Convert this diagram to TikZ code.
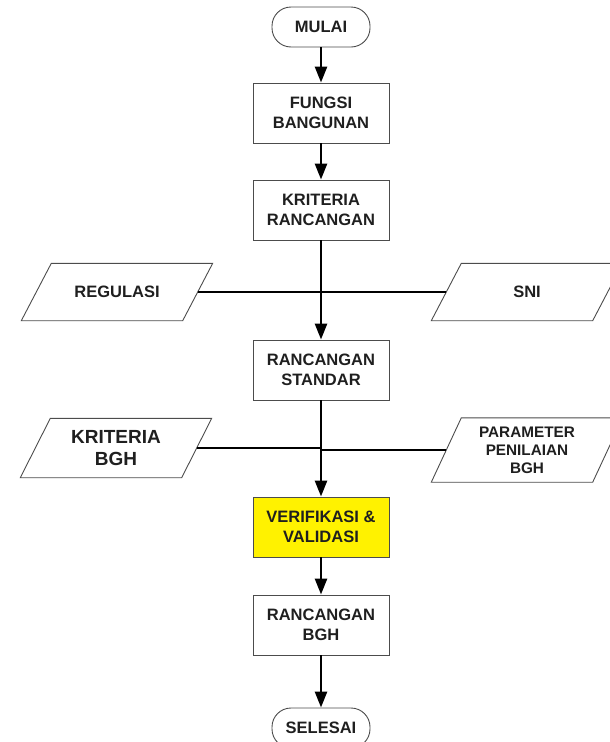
\documentclass[tikz,border=0pt]{standalone}
\usepackage{fontspec}
\setmainfont{Liberation Sans}
\usetikzlibrary{arrows.meta}

\begin{document}
\begin{tikzpicture}[x=1pt,y=-1pt,
    >={Triangle[length=16pt,width=12pt]},
    flow/.style={->,line width=2.6pt,black},
    link/.style={line width=2.6pt,black},
    txt/.style={font=\fontsize{16.5}{20}\selectfont\bfseries,text=black!88,align=center},
    box/.style={txt,draw=black!70,line width=0.9pt,fill=white,
      minimum width=136pt,minimum height=60pt,inner sep=2pt},
    term/.style={txt,draw=black!70,line width=0.9pt,fill=white,
      rounded corners=19pt,minimum width=98pt,minimum height=40pt},
    data/.style={txt,minimum width=161pt,minimum height=57pt,inner sep=1pt},
    dataframe/.style={draw=black!70,line width=0.9pt}]
  \useasboundingbox (0,0) rectangle (610,742);
  % main column
  \node[term] (mulai) at (321,27) {MULAI};
  \node[box] (fungsi) at (321,113) {FUNGSI\\BANGUNAN};
  \node[box] (kriteria) at (321,210) {KRITERIA\\RANCANGAN};
  \node[box] (standar) at (321,370) {RANCANGAN\\STANDAR};
  \node[box,fill=yellow] (verif) at (321,527) {VERIFIKASI \&\\VALIDASI};
  \node[box] (bgh) at (321,625) {RANCANGAN\\BGH};
  \node[term] (selesai) at (321,728) {SELESAI};
  % inputs on both sides
  \node[data] (regulasi) at (117,292) {REGULASI};
  \node[data] (sni) at (527,292) {SNI};
  \node[data,minimum height=59pt,font=\fontsize{19}{22}\selectfont\bfseries] (kbgh) at (116,448) {KRITERIA\\BGH};
  \node[data,minimum height=64pt,font=\fontsize{15.3}{18}\selectfont\bfseries] (param) at (527,450) {PARAMETER\\PENILAIAN\\BGH};
  % slanted outline of the input boxes
  \foreach \n in {regulasi,sni,kbgh,param}
    \draw[dataframe] ([xshift=-15pt]\n.south west) -- ([xshift=15pt]\n.north west)
      -- ([xshift=15pt]\n.north east) -- ([xshift=-15pt]\n.south east) -- cycle;
  \draw[link] (regulasi.east) -- (regulasi.east -| kriteria.south);
  \draw[link] (sni.west) -- (sni.west -| kriteria.south);
  \draw[link] (kbgh.east) -- (kbgh.east -| standar.south);
  \draw[link] (param.west) -- (param.west -| standar.south);
  \draw[flow] (mulai) -- (fungsi);
  \draw[flow] (fungsi) -- (kriteria);
  \draw[flow] (kriteria) -- (standar);
  \draw[flow] (standar) -- (verif);
  \draw[flow] (verif) -- (bgh);
  \draw[flow] (bgh) -- (selesai);
\end{tikzpicture}
\end{document}
